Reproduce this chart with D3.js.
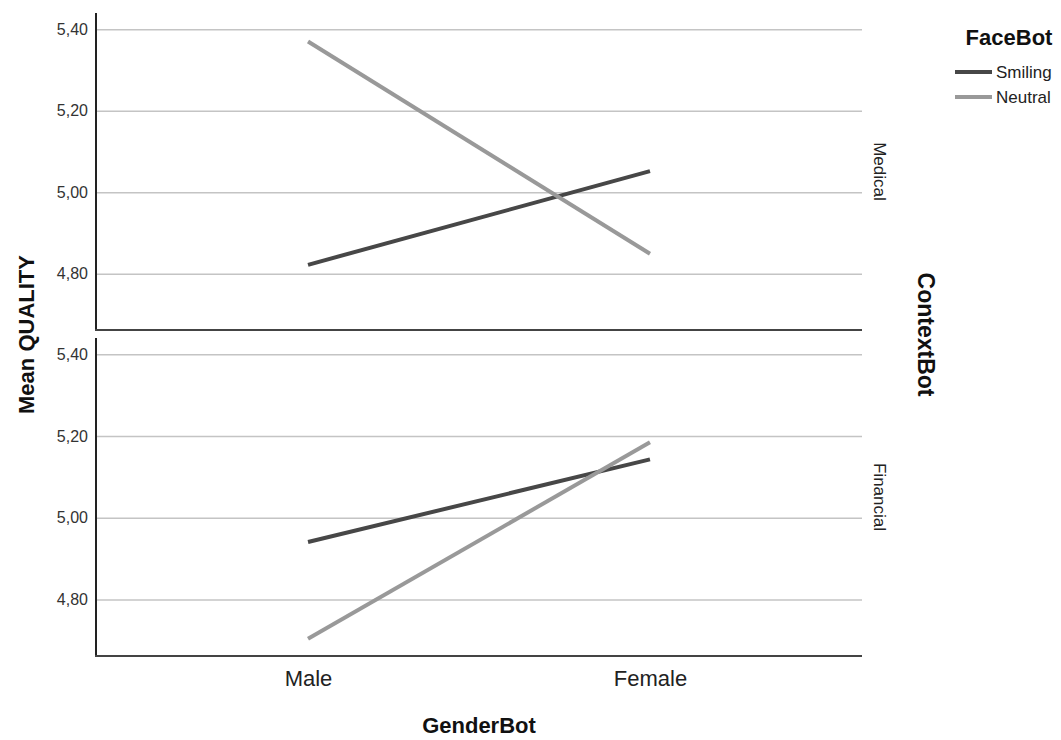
<!DOCTYPE html>
<html lang="en">
<head>
<meta charset="UTF-8">
<title>Mean QUALITY by GenderBot, FaceBot and ContextBot</title>
<script src="https://d3js.org/d3.v7.min.js"></script>
<style>
  html, body { margin: 0; padding: 0; background: #fff; }
  svg { display: block; font-family: "Liberation Sans", Arial, sans-serif; }
</style>
</head>
<body>
<svg width="1061" height="740"></svg>
<script>
// data
const genders = ["Male", "Female"];
const contexts = ["Medical", "Financial"];
const faces = ["Smiling", "Neutral"];
const medicalSmiling = [4.822, 5.052];
const medicalNeutral = [5.370, 4.849];
const financialSmiling = [4.941, 5.143];
const financialNeutral = [4.704, 5.185];
const yTicks = [4.80, 5.00, 5.20, 5.40];

const series = {
  Medical: { Smiling: medicalSmiling, Neutral: medicalNeutral },
  Financial: { Smiling: financialSmiling, Neutral: financialNeutral }
};

const faceColor = { Smiling: "#474747", Neutral: "#999999" };

const svg = d3.select("svg");
const left = 96, right = 862;
const panels = [
  { ctx: "Medical", top: 13, bottom: 330 },
  { ctx: "Financial", top: 338, bottom: 656 }
];

const x = d3.scalePoint().domain(genders).range([left, right]).padding(0.62);
const fmt = d => d3.format(".2f")(d).replace(".", ",");

panels.forEach(p => {
  const y = d3.scaleLinear().domain([4.662, 5.44]).range([p.bottom, p.top]);
  const g = svg.append("g");

  // gridlines
  g.append("g")
    .attr("transform", `translate(${left},0)`)
    .call(d3.axisLeft(y).tickValues(yTicks).tickSize(-(right - left)).tickFormat(""))
    .call(a => a.select(".domain").remove())
    .call(a => a.selectAll("line").attr("stroke", "#c4c4c4").attr("stroke-width", 1.5));

  // tick labels
  g.append("g")
    .attr("transform", `translate(${left},0)`)
    .call(d3.axisLeft(y).tickValues(yTicks).tickSize(0).tickPadding(8).tickFormat(fmt))
    .call(a => a.select(".domain").remove())
    .call(a => a.selectAll("text")
      .attr("font-size", 16).attr("fill", "#333").attr("font-family", null));

  // axis lines
  g.append("line")
    .attr("x1", left).attr("x2", left).attr("y1", p.top).attr("y2", p.bottom)
    .attr("stroke", "#222").attr("stroke-width", 2);
  g.append("line")
    .attr("x1", left - 1).attr("x2", right).attr("y1", p.bottom).attr("y2", p.bottom)
    .attr("stroke", "#444").attr("stroke-width", 2);

  // data lines
  const line = d3.line().x((d, i) => x(genders[i])).y(d => y(d));
  faces.forEach(f => {
    g.append("path")
      .datum(series[p.ctx][f])
      .attr("d", line)
      .attr("fill", "none")
      .attr("stroke", faceColor[f])
      .attr("stroke-width", 4);
  });

  // panel label
  const cy = (p.top + p.bottom) / 2;
  g.append("text")
    .attr("transform", `translate(874,${cy}) rotate(90)`)
    .attr("text-anchor", "middle")
    .attr("font-size", 17)
    .attr("fill", "#222")
    .text(p.ctx);
});

// x axis labels
svg.append("g")
  .attr("transform", `translate(0,${panels[1].bottom})`)
  .call(d3.axisBottom(x).tickSize(0).tickPadding(14))
  .call(a => a.select(".domain").remove())
  .call(a => a.selectAll("text")
    .attr("font-size", 22).attr("fill", "#222").attr("font-family", null));

// axis titles
svg.append("text")
  .attr("x", (left + right) / 2).attr("y", 733)
  .attr("text-anchor", "middle")
  .attr("font-size", 22).attr("font-weight", "bold").attr("fill", "#111")
  .text("GenderBot");

svg.append("text")
  .attr("transform", `translate(34,${(panels[0].top + panels[1].bottom) / 2}) rotate(-90)`)
  .attr("text-anchor", "middle")
  .attr("font-size", 22).attr("font-weight", "bold").attr("fill", "#111")
  .text("Mean QUALITY");

svg.append("text")
  .attr("transform", `translate(918,${(panels[0].top + panels[1].bottom) / 2}) rotate(90)`)
  .attr("text-anchor", "middle")
  .attr("font-size", 23).attr("font-weight", "bold").attr("fill", "#111")
  .text("ContextBot");

// legend
const legend = svg.append("g");
legend.append("text")
  .attr("x", 1009).attr("y", 45)
  .attr("text-anchor", "middle")
  .attr("font-size", 22).attr("font-weight", "bold").attr("fill", "#111")
  .text("FaceBot");

faces.forEach((f, i) => {
  const ly = 72 + i * 25;
  legend.append("line")
    .attr("x1", 955).attr("x2", 992).attr("y1", ly).attr("y2", ly)
    .attr("stroke", faceColor[f]).attr("stroke-width", 4);
  legend.append("text")
    .attr("x", 996).attr("y", ly + 6)
    .attr("font-size", 17).attr("fill", "#222")
    .text(f);
});
</script>
</body>
</html>
